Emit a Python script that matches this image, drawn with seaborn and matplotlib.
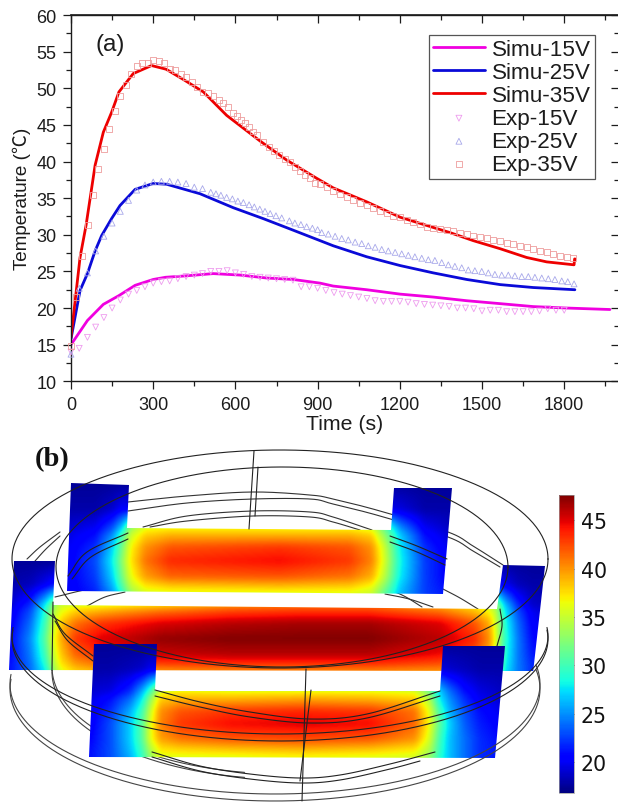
import numpy as np
import pandas as pd
import matplotlib
matplotlib.use("Agg")
import matplotlib.pyplot as plt
from matplotlib.patches import Polygon
from matplotlib.cm import ScalarMappable
from matplotlib.colors import Normalize
from matplotlib.ticker import MultipleLocator
import seaborn as sns

# ---------- panel (a) data ----------
simu15_t = [0,60,118,175,234,300,345,422,519,617,714,811,909,957,1079,1201,1322,1444,1566,1687,1809,1967]
simu15_T = [15,18.3,20.5,21.7,23.1,23.9,24.2,24.4,24.7,24.5,24.1,23.9,23.4,23.0,22.5,21.9,21.5,21.0,20.6,20.2,20.0,19.8]
simu25_t = [0,33,60,88,112,148,179,234,300,349,471,592,702,799,909,957,1079,1201,1322,1444,1566,1687,1839]
simu25_T = [15.8,22.4,24.7,27.8,29.9,32.2,34.0,36.2,37.0,36.9,35.6,33.7,32.2,30.8,29.2,28.5,27.0,25.8,24.8,23.9,23.2,22.8,22.5]
simu35_t = [0,33,55,88,118,148,175,227,294,347,410,483,568,690,787,897,957,1079,1201,1322,1383,1468,1566,1663,1736,1836,1838,1840]
simu35_T = [16,26.9,31.3,39.5,44,46.7,49.5,52,53.1,52.6,51.2,49.5,46.3,42.8,40.2,37.7,36.4,34.5,32.4,31,30.3,29.2,28.1,26.9,26.3,25.9,26.7,26.7]

exp15_t = list(range(0, 1830, 30))
exp15_T = [14.0,14.5,16,17.4,18.7,20,21.1,21.9,22.4,22.9,23.4,23.6,23.7,24,24.3,24.5,24.7,25,25,25.1,
           24.8,24.6,24.3,24.2,24.1,24,23.9,23.8,22.9,22.9,22.7,22.4,22.1,21.9,21.7,21.5,21.3,21,20.9,20.9,
           20.9,20.8,20.6,20.5,20.4,20.3,20.2,20,20,19.9,19.6,19.7,19.7,19.5,19.5,19.5,19.5,19.6,19.9,19.7,19.7]
exp25_t = [0,30,60,90,120,150,180,210,240,270,300,330,360,390,420,450,480,510,529,547,568,589,609,629,650,669,689,708,727,748,769,
           797,817,839,860,881,900,915,939,964,988,1012,1037,1061,1085,1110,1134,1158,1183,1207,1231,1255,1280,1304,1328,1353,1377,
           1401,1426,1450,1474,1499,1523,1547,1572,1596,1620,1645,1669,1693,1718,1742,1766,1791,1813,1836]
exp25_T = [13.7,22.7,24.8,27.8,29.8,31.6,33.2,34.7,36.1,36.8,37.2,37.3,37.3,37.2,37,36.5,36.3,35.8,35.6,35.4,35.1,34.9,34.6,34.4,34.1,33.8,33.5,33.2,32.9,32.6,32.3,
           31.9,31.6,31.4,31.1,30.9,30.7,30.3,30.1,29.8,29.5,29.3,29,28.8,28.5,28.3,28,27.8,27.6,27.4,27.2,27,26.8,26.6,26.5,26.2,25.9,
           25.7,25.5,25.2,25.1,25,24.8,24.6,24.5,24.5,24.4,24.3,24.3,24.2,24.1,24,23.9,23.7,23.6,23.3]
exp35_t = [0,18,40,62,80,100,120,140,160,180,200,220,240,260,280,300,320,340,360,380,400,420,440,460,480,500,520,539,556,572,592,607,622,636,651,665,680,
           702,723,741,760,781,799,817,836,854,872,891,909,933,957,982,1006,1030,1055,1079,1103,1128,1152,1176,1201,1225,1249,1274,1298,1322,1347,1371,
           1395,1420,1444,1468,1493,1517,1541,1566,1590,1614,1639,1663,1687,1712,1736,1760,1785,1809,1831]
exp35_T = [14.8,21.5,27.1,31.3,35.4,39,41.7,44.4,46.9,48.9,50.4,51.9,53,53.4,53.5,53.8,53.7,53.4,52.7,52.5,51.9,51.5,50.9,50.2,49.5,49.4,48.9,48.4,48,47.4,46.6,46.2,45.7,45.2,44.7,44.1,43.6,
           42.7,42,41.4,40.9,40.3,39.9,39.2,38.7,38.1,37.7,37.1,36.9,36.5,36,35.5,35.1,34.8,34.3,34,33.6,33.3,32.9,32.6,32.4,32,31.7,31.4,31.1,30.9,30.8,30.6,
           30.5,30.3,30.1,29.9,29.7,29.5,29.3,29.1,28.9,28.7,28.5,28.3,28.1,27.8,27.6,27.4,27.1,27,26.8]

x_ticks = [0,300,600,900,1200,1500,1800]
y_ticks = [10,15,20,25,30,35,40,45,50,55,60]

# ---------- panel (b) temperature read-offs ----------
cbar_ticks = [20,25,30,35,40,45]
X1 = [67,95,112,122,130,145,170,280,350,372,385,400,425,452]
Y1 = [484,510,528,536,548,562,578,588,595]
G1 = [[17.5]*14,
      [18,18,19,20.5,20,20,20,20,20,20,20,19.5,18,18],
      [19,20,23,27,33,36,36.5,36.5,36.5,35.5,31,25,20,18.5],
      [19.5,21,25,30,35,38,39,39,39,38,33,27,21,19],
      [20,22,27,32,36.5,40,42,43,42,40,35,28,22,19.5],
      [20,23,28,33,37,41,43.5,44.5,43,40.5,35.5,28.5,22.5,20],
      [20,22.5,27,32,36,39.5,41.5,42,41,39,34.5,28,22.5,20],
      [20,22,26,30.5,34.5,37,38,38.5,38,36.5,32.5,27,22.5,20.5],
      [20,21.5,25,29,33,35.5,36,36,36,35,31,26.5,22.5,21]]
P1 = [(71,484),(129,486),(127,529),(391,531),(394,489),(452,489),(443,595),(67,592)]

X2 = [9,30,45,53,60,75,100,160,230,300,370,440,475,490,497,505,518,532,545]
Y2 = [562,585,606,612,624,640,656,666,672]
G2 = [[17.5]*19,
      [18,18.5,20,21,21,21,21,21,21,21,21,21,21,21,21,20,18.5,18,18],
      [19,22,28,33,35.5,36,36.5,38,40,41,41,39,37,35,33,27,22,19,18.5],
      [19.5,23,29,34,36,38,39,41,42.5,43,43,41,38.5,36.5,34,28,23,20,19],
      [20,24,30,35,38,41,43,45,46,46.5,46.5,45,42,39,35,29,24,20.5,19.5],
      [20.5,25,31,36,39,43,45,47,47.5,47.5,47.5,46,43.5,40,35.5,29.5,24.5,21,20],
      [20.5,24.5,30,35,38,41.5,43.5,45.5,46,46,46,44.5,42,39,35,29,24.5,21.5,20.5],
      [21,24,29,34,37,39.5,41,42.5,43,43,43,42,40,37.5,34,28.5,24.5,22,21],
      [21,24,28,33,36,38,39,40,40.5,40.5,40.5,40,38,36.5,33,28,24.5,22,21]]
P2 = [(14,562),(55,562),(53,606),(497,610),(503,566),(545,567),(533,674),(503,674),(497,672),(9,671)]

X3 = [89,110,130,142,150,160,180,230,300,370,415,430,440,450,465,480,505]
Y3 = [645,670,692,700,712,725,740,752,759]
G3 = [[17.5]*17,
      [18,18,18.5,19,20,20,20,20,20,20,20,20,19.5,19,18.5,18,18],
      [19,19.5,22,26,30,36,37,36.5,36.5,36.5,36,32,27,24,21,19.5,18.5],
      [19.5,21,24,28,33,38,39,39,39.5,39,38,34,28,25,22,20,19],
      [20,22,26,30,35,40,42,43,43.5,43,41,36,30,26,23,21,19.5],
      [20,23,27,31,36,40.5,43,44.5,45,44.5,41.5,36.5,31,27,23.5,21.5,20],
      [20.5,23,27,31,36,39.5,41,42,42.5,42,40,35.5,30,26.5,24,22,20.5],
      [21,23,26.5,30,34,37,37.5,38,38.5,38,37,34,29.5,26.5,24,22,21],
      [21,23,26,29.5,33,36,36,36,36.5,36,35.5,33,29,26.5,24,22,21]]
P3 = [(94,645),(157,645),(155,692),(440,692),(443,647),(505,647),(495,759),(89,758)]

# wireframe ellipses: cx, cy, a, b, start angle, end angle (deg, 90 = front, 270 = back)
ELLIPSES_TOP = [(280,560,268,109,0,360),(282,568,226,100,0,360),
                (280,637,268,98,-5,185),(280,640,268,102,-5,185)]
ELLIPSES_OUTER = [(275,690,265,112,-10,185),(275,685,265,110,-10,185)]
ELLIPSES_HIDDEN = [(285,673,233,107,100,180),(285,668,233,107,100,180)]
# wireframe curves read as point chains
WIRE_BACK = [
    [(128,503),(187,497),(253,493),(310,496),(333,500),(380,512),(448,533),(473,547),(503,566)],
    [(128,512),(187,504),(253,500),(310,500),(333,505),(380,517),(448,538),(473,552),(500,568)],
    [(143,528),(187,517),(253,512),(310,513),(333,518),(372,531)],
    [(150,528),(187,522),(253,517),(310,518),(333,523),(360,531)],
    [(125,587),(90,590),(55,598)],
    [(125,593),(105,598),(87,607)],
    [(385,589),(404,597),(422,608)],
    [(385,595),(409,600),(433,608)],
    [(443,590),(460,599),(478,610)],
    [(27,560),(40,548),(60,533)],
    [(35,562),(46,550),(60,537)],
]
WIRE_FRONT = [
    [(68,577),(87,553),(128,534)],
    [(72,580),(91,558),(128,540)],
    [(390,537),(417,547),(447,560)],
    [(390,543),(417,553),(445,566)],
    [(155,691),(200,703),(250,713),(310,720),(367,715),(440,692)],
    [(155,697),(200,708),(250,718),(310,724),(367,719),(440,697)],
    [(152,753),(200,767),(250,775),(300,779),(340,776),(390,765),(435,753)],
    [(152,758),(200,772),(250,780),(300,784),(340,781),(390,770),(420,762)],
    [(53,615),(65,635),(93,657)],
    [(55,622),(68,642),(93,662)],
    [(500,610),(502,627),(497,647)],
]
VERTICALS = [((254,452),(249,530)),((258,468),(255,517)),((53,603),(52,672)),
             ((306,670),(302,802)),((311,691),(300,782))]

# ---------- theme ----------
sns.set_theme(style="ticks")
plt.rcParams["font.family"] = ["Liberation Sans", "Noto Sans CJK SC", "DejaVu Sans"]
TXT = "#1c1c1c"
fig = plt.figure(figsize=(6.18, 8.03), dpi=100)
W, H = 618, 803

# ---------- panel (a) ----------
ax = fig.add_axes([71/W, 1-382.3/H, (619-71)/W, (382.3-16)/H])
RED, BLUE, MAG = "#ee0000", "#0a0ad8", "#f000e0"
for t, T, c, lab in [(simu15_t,simu15_T,MAG,"Simu-15V"),(simu25_t,simu25_T,BLUE,"Simu-25V"),(simu35_t,simu35_T,RED,"Simu-35V")]:
    sns.lineplot(data=pd.DataFrame({"t":t,"T":T}), x="t", y="T", color=c, lw=2.0, label=lab,
                 errorbar=None, ax=ax, sort=False, estimator=None)
for t, T, c, m, lab in [(exp15_t,exp15_T,"#ee9cee","v","Exp-15V"),(exp25_t,exp25_T,"#a8a8ea","^","Exp-25V"),(exp35_t,exp35_T,"#ee9c9c","s","Exp-35V")]:
    sns.scatterplot(data=pd.DataFrame({"t":t,"T":T}), x="t", y="T", marker=m, s=18,
                    facecolors="none", edgecolor=c, linewidth=0.6, label=lab, ax=ax, zorder=3, clip_on=False)
ax.set_xlim(0, 2000); ax.set_ylim(10, 60)
ax.set_xticks(x_ticks); ax.set_yticks(y_ticks)
ax.xaxis.set_minor_locator(MultipleLocator(150)); ax.yaxis.set_minor_locator(MultipleLocator(2.5))
ax.tick_params(which="major", length=6, width=0.9, labelsize=13, colors=TXT, pad=4.5)
ax.tick_params(which="minor", length=3.5, width=0.9, colors=TXT)
ax.set_xlabel("Time (s)", fontsize=15.3, color=TXT, labelpad=0.5)
ax.set_ylabel("Temperature (℃)", fontsize=13.6, color=TXT, labelpad=3.5)
for s in ax.spines.values():
    s.set_linewidth(1.0); s.set_color(TXT)
top = ax.secondary_xaxis("top"); top.set_xticks(x_ticks); top.set_xticklabels([])
top.xaxis.set_minor_locator(MultipleLocator(150))
top.tick_params(which="major", direction="in", length=6, width=0.9, colors=TXT)
top.tick_params(which="minor", direction="in", length=3.5, width=0.9, colors=TXT)
right = ax.secondary_yaxis("right"); right.set_yticks(y_ticks); right.set_yticklabels([])
right.yaxis.set_minor_locator(MultipleLocator(2.5))
right.tick_params(which="major", direction="in", length=6, width=0.9, colors=TXT)
right.tick_params(which="minor", direction="in", length=3.5, width=0.9, colors=TXT)
ax.text(96/W, 1-45/H, "(a)", transform=fig.transFigure, fontsize=17.5, color=TXT, va="center", ha="left")
leg = ax.legend(loc="upper left", bbox_to_anchor=((429-71)/548, (382.3-36)/366.3), fontsize=16.2,
                frameon=True, fancybox=False, framealpha=1, edgecolor="#555555", borderpad=0.18,
                labelspacing=0.09, handlelength=2.3, handletextpad=0.3, borderaxespad=0, scatterpoints=1,
                labelcolor=TXT)
leg.get_frame().set_linewidth(0.9)

# ---------- panel (b) ----------
bx = fig.add_axes([0, 0, 1, (803-440)/H], facecolor="none")
VMIN, VMAX = 16.8, 47.6

def render(xs, ys, grid, poly, z):
    px = np.arange(xs[0], xs[-1] + 0.5, 1.0)
    py = np.arange(ys[0], ys[-1] + 0.5, 1.0)
    g = np.array(grid, dtype=float)
    rows = np.array([np.interp(px, xs, r) for r in g])
    f = np.array([np.interp(py, ys, rows[:, j]) for j in range(rows.shape[1])]).T
    k = np.ones(7) / 7
    pad = np.pad(f, 3, mode="edge")
    pad = np.apply_along_axis(lambda v: np.convolve(v, k, "same"), 0, pad)
    pad = np.apply_along_axis(lambda v: np.convolve(v, k, "same"), 1, pad)
    f = pad[3:-3, 3:-3]
    im = bx.imshow(f, extent=(xs[0], xs[-1], ys[-1], ys[0]), cmap="jet", vmin=VMIN, vmax=VMAX,
                   aspect="auto", interpolation="bilinear", zorder=z)
    im.set_clip_path(Polygon(poly, transform=bx.transData))

def ell(spec, z, color="#222222", lw=0.8):
    cx, cy, a, b, t0, t1 = spec
    t = np.radians(np.linspace(t0, t1, 300))
    bx.plot(cx + a*np.cos(t), cy + b*np.sin(t), color=color, lw=lw, zorder=z)

def chain(points, z, color="#222222", lw=0.8):
    p = np.array(points, dtype=float)
    q = np.vstack([2*p[0]-p[1], p, 2*p[-1]-p[-2]])
    u = np.linspace(0, 1, 20)[:, None]
    out = []
    for i in range(1, len(q)-2):
        a, b, c, d = q[i-1], q[i], q[i+1], q[i+2]
        out.append(0.5*(2*b + (c-a)*u + (2*a-5*b+4*c-d)*u**2 + (3*b-a-3*c+d)*u**3))
    o = np.vstack(out)
    bx.plot(o[:, 0], o[:, 1], color=color, lw=lw, zorder=z)

for pts in WIRE_BACK:
    chain(pts, 1, color="#333333")
for spec in ELLIPSES_HIDDEN:
    ell(spec, 1, color="#444444")
render(X1, Y1, G1, P1, 2)
render(X2, Y2, G2, P2, 3)
render(X3, Y3, G3, P3, 4)
for spec in ELLIPSES_TOP:
    ell(spec, 5)
for spec in ELLIPSES_OUTER:
    ell(spec, 5, color="#444444")
for pts in WIRE_FRONT:
    chain(pts, 5)
for (p, q) in VERTICALS:
    bx.plot([p[0], q[0]], [p[1], q[1]], color="#222222", lw=0.8, zorder=5)
bx.set_xlim(0, W); bx.set_ylim(803, 440); bx.axis("off")
bx.text(35, 460, "(b)", fontsize=20.5, fontweight="bold", family=["Liberation Serif"], color="#111111", va="center", ha="left")

cax = fig.add_axes([559/W, 1-794/H, 15/W, (794-496)/H])
cb = fig.colorbar(ScalarMappable(Normalize(VMIN, VMAX), "jet"), cax=cax)
cb.set_ticks(cbar_ticks)
cb.ax.tick_params(direction="in", length=2.5, width=0.7, labelsize=14.8, pad=5, colors="#111111")
for lab in cb.ax.get_yticklabels():
    lab.set_family("DejaVu Sans")
cb.outline.set_linewidth(0.5); cb.outline.set_edgecolor("#999999")

fig.savefig("out.png", dpi=100)
